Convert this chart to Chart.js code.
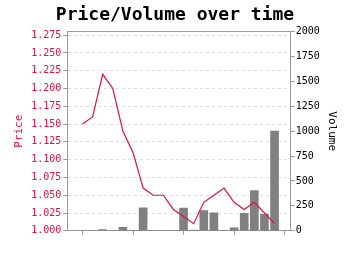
<!DOCTYPE html>
<html>
<head>
<meta charset="utf-8">
<script src="https://cdn.jsdelivr.net/npm/chart.js@4"></script>
<style>
  html, body { margin: 0; padding: 0; background: #fff; }
  #wrap { width: 350px; height: 255px; }
</style>
</head>
<body>
<div id="wrap"><canvas id="pv"></canvas></div>
<script>
// data
const days = [0, 1, 2, 3, 4, 5, 6, 7, 8, 9, 10, 11, 12, 13, 14, 15, 16, 17, 18, 19];
const price = [1.150, 1.160, 1.220, 1.200, 1.140, 1.110, 1.060, 1.050, 1.050, 1.030,
               1.020, 1.010, 1.040, 1.050, 1.060, 1.040, 1.030, 1.040, 1.025, 1.010];
const volume = [0, 5, 12, 3, 35, 5, 230, 0, 0, 3,
                228, 8, 203, 180, 3, 30, 175, 403, 165, 1000];

const mono = "'DejaVu Sans Mono', monospace";
const red = "#dc143c";
const axisGray = "#999";

Chart.defaults.font.family = mono;

new Chart(document.getElementById("pv"), {
  data: {
    datasets: [{
      type: "line",
      label: "Price",
      data: days.map((d, i) => ({x: d, y: price[i]})),
      borderColor: red,
      borderWidth: 1.2,
      pointRadius: 0,
      tension: 0,
      yAxisID: "y",
      order: 1
    }, {
      type: "bar",
      label: "Volume",
      data: days.map((d, i) => ({x: d, y: volume[i]})),
      backgroundColor: "#808080",
      barThickness: 8,
      yAxisID: "y1",
      order: 2
    }]
  },
  options: {
    responsive: true,
    maintainAspectRatio: false,
    animation: false,
    layout: { padding: { left: 0, right: 0, top: 0, bottom: 13 } },
    plugins: {
      legend: { display: false },
      tooltip: { enabled: false },
      title: {
        display: true,
        text: "Price/Volume over time",
        color: "#000",
        font: { family: mono, size: 18, weight: "bold" },
        padding: { top: 5, bottom: 5 }
      }
    },
    scales: {
      x: {
        type: "linear",
        position: "bottom",
        offset: false,
        min: -1.5,
        max: 20.6,
        ticks: {
          stepSize: 5,
          includeBounds: false,
          callback: () => "",
          font: { size: 6 },
          padding: 0
        },
        grid: { drawOnChartArea: false, offset: false, tickLength: 4, tickColor: axisGray },
        border: { color: axisGray }
      },
      xTop: {
        type: "linear",
        position: "top",
        offset: false,
        min: -1.5,
        max: 20.6,
        ticks: { display: false },
        grid: { drawOnChartArea: false, drawTicks: false },
        border: { color: axisGray }
      },
      y: {
        position: "left",
        min: 1.0,
        max: 1.28,
        ticks: {
          stepSize: 0.025,
          includeBounds: false,
          color: red,
          font: { size: 10 },
          padding: 2,
          callback: v => v.toFixed(3)
        },
        grid: { color: "#dddddd", tickLength: 4, tickColor: axisGray },
        border: { color: axisGray, dash: [3, 3] },
        title: {
          display: true,
          text: "Price",
          color: red,
          font: { size: 11 },
          padding: { top: 13, bottom: 3 }
        }
      },
      y1: {
        position: "right",
        min: 0,
        max: 2000,
        ticks: {
          stepSize: 250,
          color: "#000",
          font: { size: 10 },
          padding: 1,
          callback: v => String(v)
        },
        grid: { drawOnChartArea: false, tickLength: 4, tickColor: axisGray },
        border: { color: axisGray },
        title: {
          display: true,
          text: "Volume",
          color: "#000",
          font: { size: 11 },
          padding: { top: 12, bottom: 4 }
        }
      }
    }
  }
});
</script>
</body>
</html>
